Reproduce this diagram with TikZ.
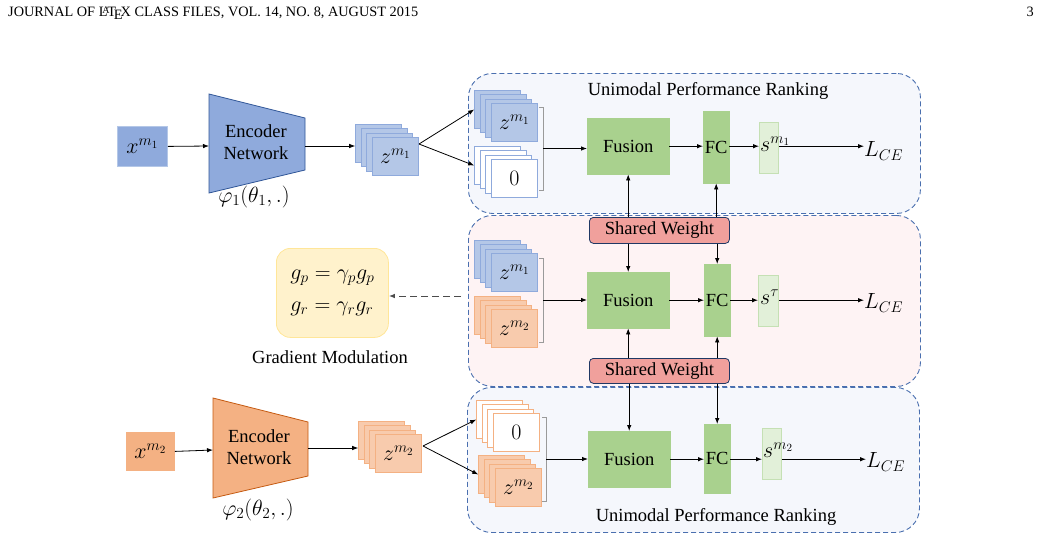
\RequirePackage{fix-cm}
\documentclass[tikz,border=0pt]{standalone}
\usepackage{fontspec}
\setmainfont{Liberation Serif}
\usetikzlibrary{arrows.meta,calc}
\definecolor{bluedark}{HTML}{8FAADC}
\definecolor{bluelight}{HTML}{B4C7E7}
\definecolor{blueline}{HTML}{2F5597}
\definecolor{orangedark}{HTML}{F4B183}
\definecolor{orangelight}{HTML}{F8CBAD}
\definecolor{orangeline}{HTML}{C55A11}
\definecolor{greenfill}{HTML}{A9D18E}
\definecolor{greenlight}{HTML}{E2F0D9}
\definecolor{greenedge}{HTML}{C5E0B4}
\definecolor{yellowfill}{HTML}{FFF2CC}
\definecolor{yellowedge}{HTML}{FFE699}
\definecolor{swfill}{HTML}{F0A09C}
\definecolor{swedge}{HTML}{203864}
\definecolor{panelblue}{HTML}{F5F7FC}
\definecolor{panelpink}{HTML}{FEF3F4}
\definecolor{paneledge}{HTML}{4A6FAF}
\definecolor{brk}{HTML}{9A9A9A}
\newcommand\zstack[6]{%
  \node[layer, fill=#4, draw=#5] (#1-b) at ({#2-16.8},{#3-12.9}) {};
  \node[layer, fill=#4, draw=#5] at ({#2-11.2},{#3-8.6}) {};
  \node[layer, fill=#4, draw=#5] at ({#2-5.6},{#3-4.3}) {};
  \node[layer, fill=#4, draw=#5] (#1) at (#2,#3) {#6};
}
\newcommand\bracketat[4]{% name, x, ytop, ybot
  \draw[brk, line width=0.8pt] ({#2-4},#3) -- (#2,#3) -- (#2,#4) -- ({#2-4},#4);
  \coordinate (#1) at (#2,{(#3+#4)/2});
}
\newcommand\mth[1]{{\fontsize{22}{26}\selectfont$#1$}}
\begin{document}
\begin{tikzpicture}[x=1pt,y=-1pt,
  font=\fontsize{18.5}{22}\selectfont,
  >={Latex[length=6pt,width=4.5pt]},
  arr/.style={->, line width=0.8pt},
  layer/.style={anchor=north west, minimum width=46pt, minimum height=38pt, inner sep=0pt, line width=0.8pt},
  panel/.style={draw=paneledge, dash pattern=on 5pt off 3pt, rounded corners=24pt, line width=0.9pt, anchor=north west, inner sep=0pt},
  fusionbox/.style={fill=greenfill, draw=greenfill, anchor=north west, minimum width=82pt, minimum height=56pt, inner sep=0pt},
  fcbox/.style={fill=greenfill, draw=greenfill, anchor=north west, minimum width=26pt, minimum height=72pt, inner sep=0pt},
  sbox/.style={fill=greenlight, draw=greenedge, line width=0.8pt, anchor=north west, minimum width=19pt, minimum height=51pt, inner sep=0pt},
  swbox/.style={fill=swfill, draw=swedge, line width=0.8pt, rounded corners=4pt, anchor=north west, minimum width=140pt, minimum height=26pt, inner sep=0pt},
  xbox/.style={anchor=north west, minimum width=50pt, minimum height=40pt, inner sep=0pt, line width=0.8pt},
  lbl/.style={inner sep=0pt}
]
\useasboundingbox (0,0) rectangle (1041,539);

% header
\node[anchor=base west, font=\fontsize{14.3}{16}\selectfont, inner sep=0pt] (hdr) at (8,16) {JOURNAL OF \LaTeX\ CLASS FILES, VOL. 14, NO. 8, AUGUST 2015};
\node[anchor=base east, font=\fontsize{14.3}{16}\selectfont, inner sep=0pt] (pg) at (1034,16) {3};

% panels
\node[panel, fill=panelblue, minimum width=452pt, minimum height=140pt] (p1) at (468,73) {};
\node[panel, fill=panelblue, minimum width=452pt, minimum height=145pt] (p3) at (467,387) {};
\node[panel, fill=panelpink, minimum width=452pt, minimum height=171pt] (p2) at (468,215) {};
\node[lbl] (t1) at (708,91) {Unimodal Performance Ranking};
\node[lbl] (t3) at (716,517) {Unimodal Performance Ranking};

% ---- modality 1 ----
\node[xbox, fill=bluedark, draw=bluelight] (x1) at (117,126) {\mth{x^{m_1}}};
\draw[fill=bluedark, draw=blueline, line width=0.8pt] (209,94) -- (305,118) -- (305,170) -- (209,193) -- cycle;
\node[lbl, align=center] (enc1) at (256,142) {Encoder\\Network};
\coordinate (e1w) at (209,146);
\coordinate (e1e) at (305,146);
\node[lbl] (phi1) at (254,197) {\mth{\varphi_1(\theta_1,.)}};
\draw[arr] (x1.east) -- (e1w);
\zstack{s1}{372}{137}{bluelight}{bluedark}{\mth{z^{m_1}}}
\draw[arr] (e1e) -- (e1e -| s1-b.west);
\coordinate (v1) at (419,144);

% top panel
\zstack{t1z}{491}{103}{bluelight}{bluedark}{\mth{z^{m_1}}}
\zstack{t10}{491}{159}{white}{bluedark}{\mth{0}}
\draw[arr] (v1) -- (t1z-b.west);
\draw[arr] (v1) -- (t10-b.west);
\bracketat{br1}{543}{107}{190}
\node[fusionbox] (f1) at (587,118) {Fusion};
\node[fcbox] (fc1) at (703,111) {FC};
\node[sbox] (sb1) at (759,122) {};
\node[lbl, anchor=west] (sl1) at ([xshift=1pt,yshift=4pt]sb1.west) {\mth{s^{m_1}}};
\node[lbl, anchor=west] (L1) at (864,151) {\mth{L_{CE}}};
\draw[arr] (br1) -- (br1 -| f1.west);
\draw[arr] (f1.east) -- (f1.east -| fc1.west);
\draw[arr] (f1.east -| fc1.east) -- (f1.east -| sb1.west);
\draw[arr] (f1.east -| sb1.east) -- (f1.east -| L1.west);

% middle panel
\node[swbox] (sw1) at (589,217) {Shared Weight};
\node[swbox, minimum height=25pt] (sw2) at (589,358) {Shared Weight};
\zstack{mz1}{491}{253}{bluelight}{bluedark}{\mth{z^{m_1}}}
\zstack{mz2}{491}{309}{orangelight}{orangedark}{\mth{z^{m_2}}}
\bracketat{br2}{543}{258}{342}
\node[fusionbox] (f2) at (587,272) {Fusion};
\node[fcbox] (fc2) at (704,264) {FC};
\node[sbox, minimum width=20pt] (sb2) at (758,275) {};
\node[lbl, anchor=west] (sl2) at ([xshift=2pt,yshift=4pt]sb2.west) {\mth{s^{\tau}}};
\node[lbl, anchor=west] (L2) at (864,303) {\mth{L_{CE}}};
\draw[arr] (br2) -- (br2 -| f2.west);
\draw[arr] (f2.east) -- (f2.east -| fc2.west);
\draw[arr] (f2.east -| fc2.east) -- (f2.east -| sb2.west);
\draw[arr] (f2.east -| sb2.east) -- (f2.east -| L2.west);

% gradient modulation
\node[anchor=north west, minimum width=112pt, minimum height=89pt, rounded corners=14pt, fill=yellowfill, draw=yellowedge, line width=0.8pt, align=left, inner sep=0pt] (gm) at (276,248) {\mth{g_p=\gamma_p g_p}\\[10pt]\mth{g_r=\gamma_r g_r}};
\node[lbl] (gml) at (330,357) {Gradient Modulation};
\coordinate (dstart) at (461,296);
\draw[->, dash pattern=on 7pt off 4pt, line width=1pt, draw=black!70] (dstart) -- (dstart -| gm.east);

% ---- modality 2 ----
\node[xbox, fill=orangedark, draw=orangedark, minimum width=48pt, minimum height=38pt] (x2) at (126,432) {\mth{x^{m_2}}};
\draw[fill=orangedark, draw=orangeline, line width=0.8pt] (213,398) -- (308,422) -- (308,476) -- (213,498) -- cycle;
\node[lbl, align=center] (enc2) at (259,447) {Encoder\\Network};
\coordinate (e2w) at (213,450);
\coordinate (e2e) at (308,448);
\node[lbl] (phi2) at (258,510) {\mth{\varphi_2(\theta_2,.)}};
\draw[arr] (x2.east) -- (e2w);
\zstack{s2}{375}{434}{orangelight}{orangedark}{\mth{z^{m_2}}}
\draw[arr] (e2e) -- (e2e -| s2-b.west);
\coordinate (v2) at (423,446);

% bottom panel
\zstack{b0}{493}{413}{white}{orangedark}{\mth{0}}
\zstack{bz2}{495}{468}{orangelight}{orangedark}{\mth{z^{m_2}}}
\draw[arr] (v2) -- (b0-b.west);
\draw[arr] (v2) -- (bz2-b.west);
\bracketat{br3}{546}{417}{501}
\node[fusionbox] (f3) at (588,431) {Fusion};
\node[fcbox, minimum height=69pt] (fc3) at (704,424) {FC};
\node[sbox] (sb3) at (762,428) {};
\node[lbl, anchor=west] (sl3) at ([xshift=1pt,yshift=4pt]sb3.west) {\mth{s^{m_2}}};
\node[lbl, anchor=west] (L3) at (866,462) {\mth{L_{CE}}};
\draw[arr] (br3) -- (br3 -| f3.west);
\draw[arr] (f3.east) -- (f3.east -| fc3.west);
\draw[arr] (f3.east -| fc3.east) -- (f3.east -| sb3.west);
\draw[arr] (f3.east -| sb3.east) -- (f3.east -| L3.west);

% shared weight connectors
\draw[arr] (sw1.north -| f1.south) -- (f1.south);
\draw[arr] (sw1.north -| fc1.south) -- (fc1.south);
\draw[arr] (sw1.south -| f2.north) -- (f2.north);
\draw[arr] (sw1.south -| fc2.north) -- (fc2.north);
\draw[arr] (sw2.north -| f2.south) -- (f2.south);
\draw[arr] (sw2.north -| fc2.south) -- (fc2.south);
\draw[arr] (sw2.south -| f3.north) -- (f3.north);
\draw[arr] (sw2.south -| fc3.north) -- (fc3.north);
\end{tikzpicture}
\end{document}
